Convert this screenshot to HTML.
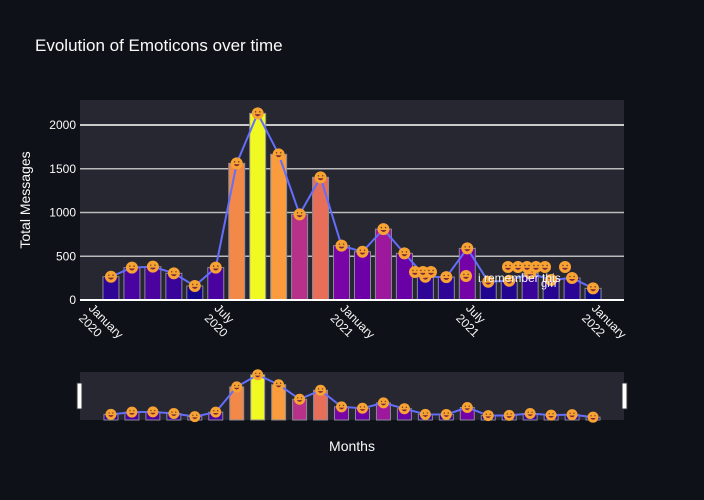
<!DOCTYPE html>
<html><head><meta charset="utf-8"><style>
body{margin:0;background:#0e1117;}
svg{display:block;font-family:"Liberation Sans",sans-serif;}
</style></head><body>
<svg id="c" width="704" height="500">
<rect width="704" height="500" fill="#0e1117"/>
<text x="35" y="51" fill="#fafafa" font-size="17">Evolution of Emoticons over time</text>
<rect x="80" y="100" width="544" height="200" fill="#262730"/>
<g id="grid"></g>
<g id="bars"></g>
<g id="line"></g>
<line x1="80" y1="300" x2="624" y2="300" stroke="#fff" stroke-width="2"/>
<g id="xt"></g>
<text transform="translate(30,200) rotate(-90)" text-anchor="middle" fill="#fafafa" font-size="14">Total Messages</text>
<text x="352" y="451" text-anchor="middle" fill="#fafafa" font-size="14">Months</text>
<rect x="80" y="372" width="544" height="48" fill="#262730"/>
<g id="mini"></g>
<rect x="77" y="383" width="5" height="26" fill="#fff" stroke="#333"/>
<rect x="622" y="383" width="5" height="26" fill="#fff" stroke="#333"/>
</svg>
<script>
const months=[1,2,3,4,5,6,7,8,9,10,11,12,13,14,15,16,17,18,19,20,21,22,23,24];
const values=[266,370,381,305,160,370,1562,2133,1665,979,1402,621,552,810,533,266,262,590,209,220,305,229,251,133];
const yTicks=[0,500,1000,1500,2000];
const xTickMonths=[0,6,12,18,24];
const xTickLabels=[["January","2020"],["July","2020"],["January","2021"],["July","2021"],["January","2022"]];
const NS="http://www.w3.org/2000/svg";
const X=m=>90+m*20.96;
const Y=v=>300-v*0.0875;
const YM=v=>420-v*0.0212;
function mk(t,a,p){const e=document.createElementNS(NS,t);for(const k in a)e.setAttribute(k,a[k]);(p||document.getElementById('c')).appendChild(e);return e;}
const plasma=["#0d0887","#46039f","#7201a8","#9c179e","#bd3786","#d8576b","#ed7953","#fb9f3a","#fdca26","#f0f921"];
function hx(h){return [1,3,5].map(i=>parseInt(h.substr(i,2),16));}
function col(v){const mn=Math.min(...values),mx=Math.max(...values);let t=(v-mn)/(mx-mn)*9;let i=Math.min(8,Math.floor(t)),f=t-i;const a=hx(plasma[i]),b=hx(plasma[i+1]);return `rgb(${a.map((x,j)=>Math.round(x+(b[j]-x)*f)).join(',')})`;}
const grid=document.getElementById('grid');
yTicks.forEach(v=>{
 if(v>0){const l=mk('line',{x1:80,x2:624,y1:Y(v),y2:Y(v),stroke:v==2000?'#fff':'#bbb','stroke-width':1.5},grid);
 
 }
 const t=mk('text',{x:76,y:Y(v)+4,'text-anchor':'end',fill:'#fafafa','font-size':12},grid);t.textContent=v;
 
 
});
const xt=document.getElementById('xt');
xTickMonths.forEach((m,i)=>{
 const g=mk('g',{transform:`translate(${X(m)-2},309) rotate(45)`},xt);
 
 
 const a=mk('text',{x:0,y:0,fill:'#fafafa','font-size':12},g);a.textContent=xTickLabels[i][0];
 const b=mk('text',{x:0,y:14,fill:'#fafafa','font-size':12},g);b.textContent=xTickLabels[i][1];
});
const bars=document.getElementById('bars'),lineG=document.getElementById('line'),mini=document.getElementById('mini');
function face(cx,cy,r,p){const g=mk('g',{},p);
 
 
 mk('circle',{cx,cy,r,fill:'#f7a233'},g);
 mk('path',{d:`M${cx-r*0.5} ${cy+r*0.15} Q${cx} ${cy+r*0.8} ${cx+r*0.5} ${cy+r*0.15}Z`,fill:'#7a2a3a'},g);
 mk('circle',{cx:cx-r*0.35,cy:cy-r*0.25,r:r*0.12,fill:'#5a3a20'},g);
 mk('circle',{cx:cx+r*0.35,cy:cy-r*0.25,r:r*0.12,fill:'#5a3a20'},g);}
let pts=[],mpts=[];
months.forEach((m,i)=>{const v=values[i],x=X(m);
 const r=mk('rect',{x:x-8,y:Y(v),width:16,height:300-Y(v),fill:col(v),stroke:'#8a8a99','stroke-width':1},bars);
 
 
 const r2=mk('rect',{x:x-7,y:YM(v),width:14,height:420-YM(v),fill:col(v),stroke:'#8a8a99','stroke-width':1},mini);
 
 
 pts.push(x+','+Y(v));mpts.push(x+','+YM(v));});
const pl=mk('polyline',{points:pts.join(' '),fill:'none',stroke:'#636efa','stroke-width':2},lineG);


const pl2=mk('polyline',{points:mpts.join(' '),fill:'none',stroke:'#636efa','stroke-width':2},mini);


months.forEach((m,i)=>{face(X(m),Y(values[i]),6,lineG);face(X(m),YM(values[i]),5.5,mini);});
[[415,272],[423,272],[431,272],[508,267],[518,267],[527,267],[536,267],[545,267],[565,267],[466,276]].forEach(p=>face(p[0],p[1],6,lineG));
const an=mk('text',{x:478,y:282,fill:'#fafafa','font-size':12},lineG);an.textContent='i remember this';


const an2=mk('text',{x:541,y:287,fill:'#fafafa','font-size':11},lineG);an2.textContent='gm';


</script>
</body></html>
